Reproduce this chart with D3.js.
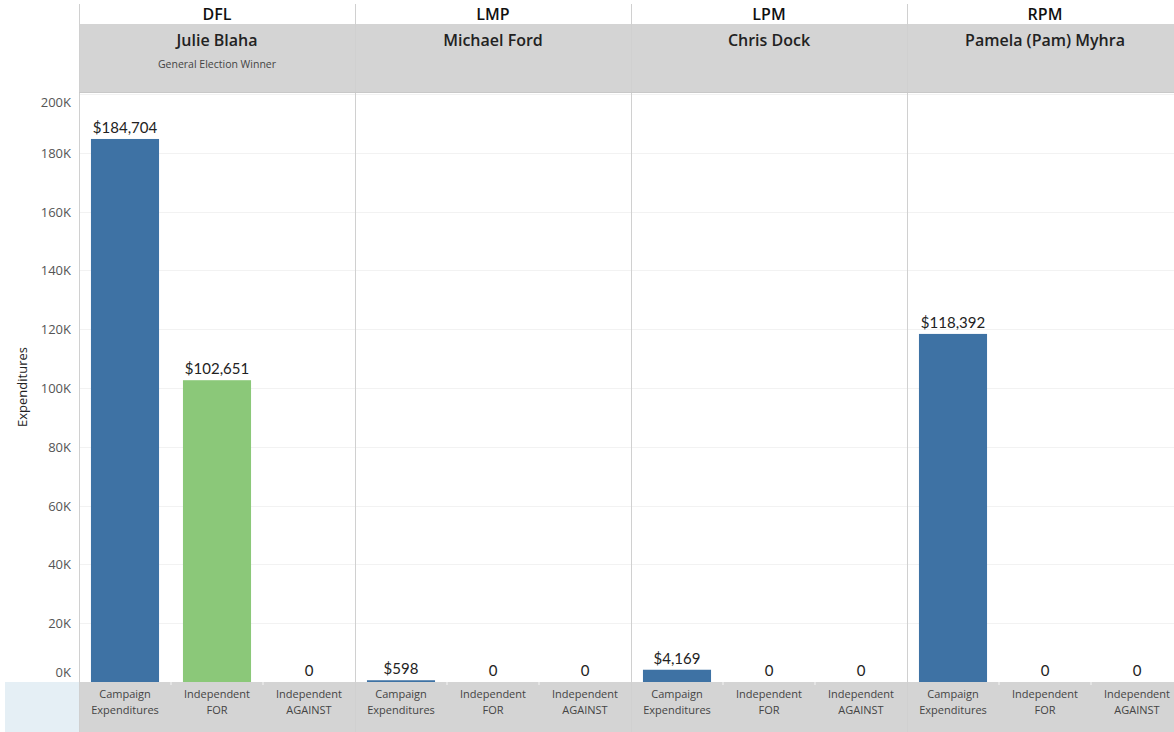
<!DOCTYPE html>
<html><head><meta charset="utf-8">
<script src="https://cdn.jsdelivr.net/npm/d3@7"></script>
<style>body{margin:0;background:#fff}svg{display:block}</style>
</head><body>
<script>
const parties = ["DFL","LMP","LPM","RPM"];
const candidates = ["Julie Blaha","Michael Ford","Chris Dock","Pamela (Pam) Myhra"];
const subtitles = ["General Election Winner","","",""];
const categories = ["Campaign Expenditures","Independent FOR","Independent AGAINST"];
const categoryLines = [["Campaign","Expenditures"],["Independent","FOR"],["Independent","AGAINST"]];
const campaignExp = [184704, 598, 4169, 118392];
const independentFor = [102651, 0, 0, 0];
const independentAgainst = [0, 0, 0, 0];
const yTicks = [0,20000,40000,60000,80000,100000,120000,140000,160000,180000,200000];

const W=1174,H=732;
const left=79, panelW=276, plotTop=92, plotBot=682;
const svg=d3.select("body").append("svg").attr("width",W).attr("height",H);
const font="'Open Sans', 'Noto Sans', sans-serif";

const y=d3.scaleLinear().domain([0,200000]).range([plotBot,94]);
const px=d3.scaleBand().domain(parties).range([left,left+panelW*parties.length]);
const cx=d3.scaleBand().domain(categories).range([0,panelW]).paddingInner(0.26).paddingOuter(0.13);
const color=d3.scaleOrdinal().domain(categories).range(["#3e72a4","#8bc879","#e15759"]);

// bottom bands
svg.append("rect").attr("x",5).attr("y",plotBot).attr("width",left-5).attr("height",H-plotBot).attr("fill","#e5eff5");
svg.append("rect").attr("x",left).attr("y",plotBot).attr("width",W-left).attr("height",H-plotBot).attr("fill","#d4d4d4");
// header band
svg.append("rect").attr("x",left).attr("y",24).attr("width",W-left).attr("height",plotTop-24).attr("fill","#d4d4d4");

// gridlines
svg.append("g").selectAll("line").data(yTicks.filter(d=>d>0)).join("line")
  .attr("x1",left).attr("x2",W).attr("y1",d=>Math.round(y(d))+0.5).attr("y2",d=>Math.round(y(d))+0.5)
  .attr("stroke","#f2f2f2");

// y axis
const yAxis=d3.axisLeft(y).tickValues(yTicks).tickFormat(d=>(d/1000)+"K").tickSize(0).tickPadding(8);
const ga=svg.append("g").attr("transform",`translate(${left},0)`).call(yAxis);
ga.select(".domain").remove();
ga.selectAll("text").attr("font-family",font).attr("font-size",13).attr("fill","#555")
  .attr("y",0).attr("dy","0.35em")
  .attr("transform",d=>{const yy=y(d);const c=Math.max(102,Math.min(672,yy));return `translate(0,${c-yy})`;});
svg.append("text").attr("transform",`translate(27,${(plotTop+plotBot)/2}) rotate(-90)`)
  .attr("text-anchor","middle").attr("font-family",font).attr("font-size",13).attr("fill","#222").text("Expenditures");

// panels
const rows=[campaignExp,independentFor,independentAgainst];
parties.forEach((p,i)=>{
  const g=svg.append("g").attr("transform",`translate(${px(p)},0)`);
  g.append("text").attr("x",panelW/2).attr("y",20).attr("text-anchor","middle")
    .attr("font-family",font).attr("font-weight",600).attr("font-size",16).attr("fill","#111").text(p);
  g.append("text").attr("x",panelW/2).attr("y",46).attr("text-anchor","middle")
    .attr("font-family",font).attr("font-weight",600).attr("font-size",16).attr("fill","#222").text(candidates[i]);
  if(subtitles[i]) g.append("text").attr("x",panelW/2).attr("y",68).attr("text-anchor","middle")
    .attr("font-family",font).attr("font-size",10.5).attr("fill","#444").text(subtitles[i]);
  const vals=categories.map((c,k)=>({c,v:rows[k][i]}));
  g.selectAll("rect.bar").data(vals).join("rect").attr("class","bar")
    .attr("x",d=>cx(d.c)).attr("width",cx.bandwidth())
    .attr("y",d=>y(d.v)).attr("height",d=>plotBot-y(d.v)).attr("fill",d=>color(d.c));
  g.selectAll("text.val").data(vals).join("text").attr("class","val")
    .attr("x",d=>cx(d.c)+cx.bandwidth()/2).attr("y",d=>y(d.v)-6).attr("text-anchor","middle")
    .attr("font-family","Lato, 'Open Sans', sans-serif").attr("font-size",15).attr("fill","#222")
    .text(d=>d.v===0?"0":"$"+d3.format(",")(d.v));
  categories.forEach((c,k)=>{
    const t=g.append("text").attr("x",cx(c)+cx.bandwidth()/2).attr("y",698).attr("text-anchor","middle")
      .attr("font-family",font).attr("font-size",11).attr("fill","#444");
    categoryLines[k].forEach((ln,j)=>t.append("tspan").attr("x",cx(c)+cx.bandwidth()/2).attr("dy",j?16:0).text(ln));
    if(k>0) g.append("line").attr("x1",panelW/3*k).attr("x2",panelW/3*k).attr("y1",plotBot).attr("y2",plotBot+3).attr("stroke","#f4f4f4");
  });
});

// separators
d3.range(parties.length+1).forEach(i=>{
  const xx=left+panelW*i+0.5;
  svg.append("line").attr("x1",xx).attr("x2",xx).attr("y1",4).attr("y2",H).attr("stroke","#d0d0d0");
});
svg.append("line").attr("x1",left).attr("x2",W).attr("y1",plotTop+0.5).attr("y2",plotTop+0.5).attr("stroke","#c8c8c8");
</script>
</body></html>
